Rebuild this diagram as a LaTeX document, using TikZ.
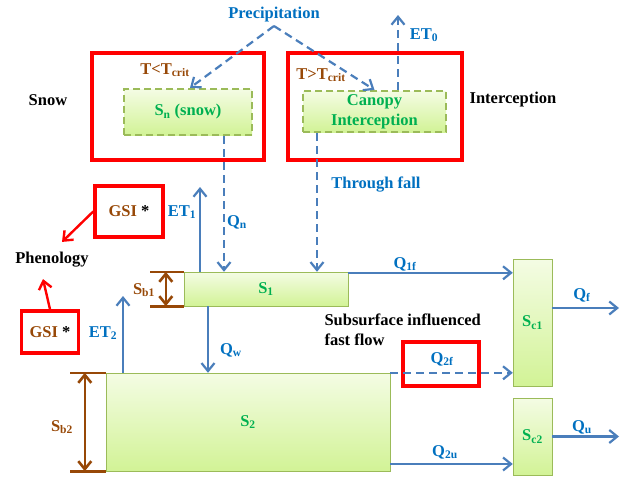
\documentclass[tikz,border=0pt]{standalone}
\usepackage{fontspec}
\setmainfont{Liberation Serif}
\usetikzlibrary{positioning,arrows.meta}

\definecolor{flowblue}{RGB}{74,126,187}
\definecolor{txtblue}{RGB}{0,112,192}
\definecolor{txtgreen}{RGB}{0,176,80}
\definecolor{txtbrown}{RGB}{151,72,7}
\definecolor{boxedge}{RGB}{155,187,89}
\definecolor{boxtop}{RGB}{244,252,228}
\definecolor{boxbot}{RGB}{210,243,150}

\newcommand{\sub}[1]{\textsubscript{#1}}

\begin{document}
\begin{tikzpicture}[x=1pt,y=-1pt,
	every node/.style={font=\fontsize{16.5}{20}\selectfont\bfseries},
	store/.style={draw=boxedge,top color=boxtop,bottom color=boxbot,text=txtgreen,inner sep=0pt},
	dstore/.style={store,line width=2.2pt,dash pattern=on 7pt off 4pt},
	redbox/.style={draw=red,line width=3.5pt,inner sep=0pt},
	flow/.style={draw=flowblue,line width=2.2pt,-{Straight Barb[length=8pt,width=13pt]}},
	dflow/.style={flow,dash pattern=on 8pt off 5pt},
	redarrow/.style={draw=red,line width=2.4pt,-{Straight Barb[length=8pt,width=13pt]}},
	dim/.style={draw=txtbrown,line width=2.6pt},
	dimarrow/.style={dim,{Straight Barb[length=8pt,width=13pt]}-{Straight Barb[length=8pt,width=13pt]}},
	lab/.style={text=txtblue},
	brn/.style={text=txtbrown}]

		\useasboundingbox (0,0) rectangle (622,479);

		%red frames
		\node[redbox,minimum width=172pt,minimum height=107pt] (snowbox) at (178,106.5) {};
		\node[redbox,minimum width=174pt,minimum height=107pt] (icpbox) at (375,106.5) {};
		\node[redbox,minimum width=68pt,minimum height=51pt] (gsia) at (129,211.5) {};
		\node[redbox,minimum width=57pt,minimum height=42pt] (gsib) at (50,332) {};
		\node[redbox,minimum width=76pt,minimum height=44pt] (q2fbox) at (441,364) {};

		%stores
		\node[dstore,minimum width=128pt,minimum height=46pt] (Sn) at (188,112) {S\sub{n} (snow)};
		\node[dstore,minimum width=143pt,minimum height=41pt,align=center] (canopy) at (374.5,111.5) {Canopy\\Interception};
		\node[store,minimum width=164pt,minimum height=34pt] (S1) at (266,289) {S\sub{1}};
		\node[store,minimum width=284pt,minimum height=98pt] (S2) at (248,422) {S\sub{2}};
		\node[store,minimum width=39pt,minimum height=127pt] (Sc1) at (532.5,322.5) {S\sub{c1}};
		\node[store,minimum width=39pt,minimum height=77pt] (Sc2) at (532.5,436.5) {S\sub{c2}};

		%texts
		\node[lab] (prec) at (274,15) {Precipitation};
		\node (snow) at (48,100) {Snow};
		\node (icp) at (513,100) {Interception};
		\node (pheno) at (52,260) {Phenology};
		\node[align=left,anchor=west] (fast) at (321,330) {Subsurface influenced\\fast flow};
		\node[brn] (tlow) at (165,70) {T<T\sub{crit}};
		\node[brn] (thigh) at (321,75) {T>T\sub{crit}};
		\node[brn] at (gsia) {GSI \textcolor{black}{*}};
		\node[brn] at (gsib) {GSI \textcolor{black}{*}};
		\node[brn] (sb1) at (144,290) {S\sub{b1}};
		\node[brn] (sb2) at (62,427) {S\sub{b2}};

		%flow labels
		\node[lab] (et0) at (424,35) {ET\sub{0}};
		\node[lab] (et1) at (182,212) {ET\sub{1}};
		\node[lab] (et2) at (103,333) {ET\sub{2}};
		\node[lab] (thf) at (376,185) {Through fall};
		\node[lab] (qn) at (237,222) {Q\sub{n}};
		\node[lab] (qw) at (231,350) {Q\sub{w}};
		\node[lab] (q1f) at (405,264) {Q\sub{1f}};
		\node[lab] (q2f) at (442,359) {Q\sub{2f}};
		\node[lab] (q2u) at (445,452) {Q\sub{2u}};
		\node[lab] (qf) at (582,295) {Q\sub{f}};
		\node[lab] (qu) at (582,427) {Q\sub{u}};

		%free ends
		\coordinate (top0) at (398,15);
		\coordinate (top1) at (200,187);
		\coordinate (top2) at (123,296);
		\coordinate (xqn) at (224,0);
		\coordinate (xthf) at (317,0);
		\coordinate (xqw) at (208,0);
		\coordinate (yqf) at (0,308);
		\coordinate (yq2u) at (0,464);
		\coordinate (outf) at (619,0);

		%precipitation
		\draw[dflow] (prec.south) -- ([xshift=2pt]Sn.north);
		\draw[dflow] (prec.south) -- (canopy.north);

		%vertical fluxes
		\draw[dflow] (canopy.north -| top0) -- (top0);
		\draw[dflow] (Sn.south -| xqn) -- (S1.north -| xqn);
		\draw[dflow] (canopy.south -| xthf) -- (S1.north -| xthf);
		\draw[flow] (S1.north -| top1) -- (top1);
		\draw[flow] (S2.north -| top2) -- (top2);
		\draw[flow] (S1.south -| xqw) -- (S2.north -| xqw);

		%lateral fluxes
		\draw[flow] ([yshift=-1pt]S1.north east) -- ([yshift=-1pt]S1.north east -| Sc1.west);
		\draw[dflow] (S2.north east) -- (S2.north east -| Sc1.west);
		\draw[flow] (S2.east |- yq2u) -- (Sc2.west |- yq2u);
		\draw[flow] (Sc1.east |- yqf) -- (outf |- yqf);
		\draw[flow] (Sc2.east) -- (outf |- Sc2.east);

		%phenology
		\draw[redarrow] (gsia.west) -- ([shift={(10,-7)}]pheno.north);
		\draw[redarrow] (gsib.north) -- ([shift={(-9,8)}]pheno.south);

		%storage depths
		\draw[dim] (S1.north west) -- ++(-34,0);
		\draw[dim] (S1.south west) -- ++(-34,0);
		\draw[dimarrow] ([xshift=-18pt]S1.north west) -- ([xshift=-18pt]S1.south west);
		\draw[dim] (S2.north west) -- ++(-36,0);
		\draw[dim] (S2.south west) -- ++(-36,0);
		\draw[dimarrow] ([xshift=-21pt]S2.north west) -- ([xshift=-21pt]S2.south west);

\end{tikzpicture}
\end{document}
